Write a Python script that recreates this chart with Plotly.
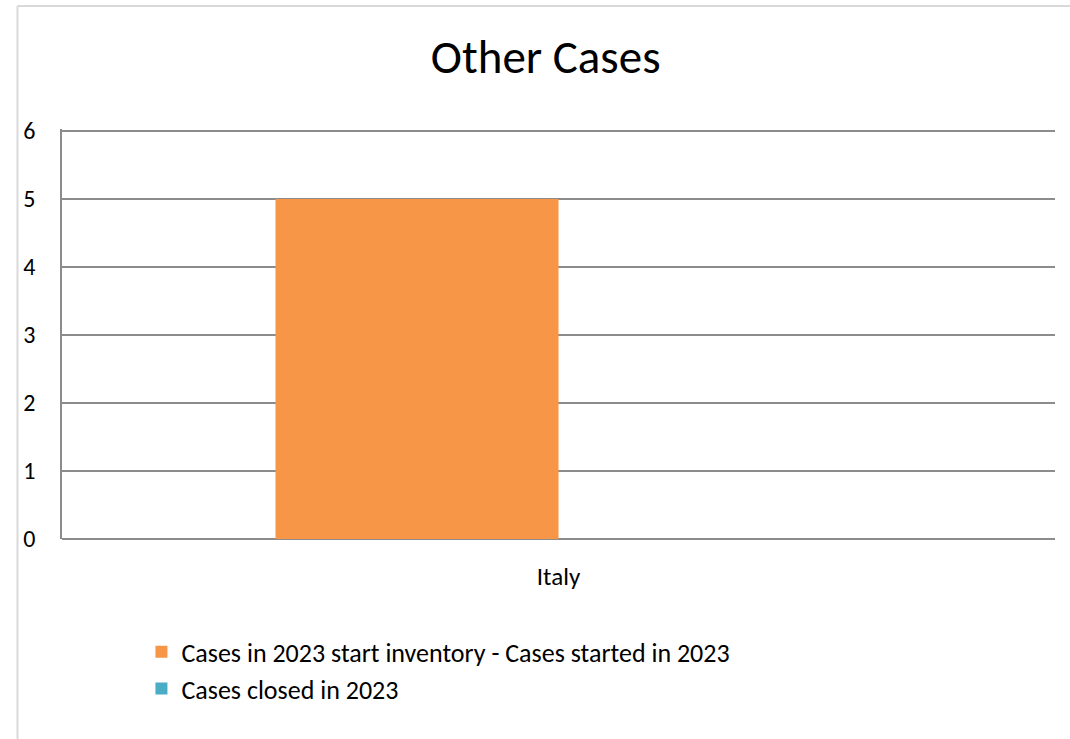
import plotly.graph_objects as go

categories = ["Italy"]
series_names = [
    "Cases in 2023 start inventory - Cases started in 2023",
    "Cases closed in 2023",
]
series_values = [
    [5],
    [0],
]
series_colors = ["#F79646", "#4BACC6"]
y_ticks = [0, 1, 2, 3, 4, 5, 6]

FONT = "Carlito, Lato, 'Open Sans', sans-serif"

fig = go.Figure()
for name, vals, color in zip(series_names, series_values, series_colors):
    fig.add_trace(go.Bar(
        name=name,
        x=categories,
        y=vals,
        marker=dict(color=color, line_width=0),
    ))

# light frame of the chart area (left and top edges)
frame = dict(type="line", xref="paper", yref="paper", line=dict(color="#D9D9D9", width=2), layer="below")
fig.add_shape(x0=-0.0448, x1=-0.0448, y0=1.3, y1=-0.5, **frame)
fig.add_shape(x0=-0.0448, x1=1.02, y0=1.3, y1=1.3, **frame)

fig.update_layout(
    title=dict(text="Other Cases", x=0.51, xanchor="center", y=0.923, yanchor="middle",
               font=dict(size=47, color="#000000", family=FONT)),
    barmode="group",
    bargap=0.43,
    bargroupgap=0,
    paper_bgcolor="white",
    plot_bgcolor="white",
    font=dict(family=FONT, color="#000000"),
    width=1070,
    height=739,
    margin=dict(l=62, r=15, t=129, b=200),
    xaxis=dict(
        showline=False,
        showgrid=False,
        tickfont=dict(size=25),
        ticks="",
        ticklabelstandoff=20,
    ),
    yaxis=dict(
        range=[0, 6.03],
        tickvals=y_ticks,
        showgrid=True,
        gridcolor="#8C8C8C",
        gridwidth=1.5,
        showline=True,
        linecolor="#8C8C8C",
        linewidth=1.5,
        zeroline=True,
        zerolinecolor="#8C8C8C",
        zerolinewidth=1.5,
        tickfont=dict(size=24),
        ticklabelstandoff=20,
    ),
    legend=dict(
        orientation="v",
        x=0.080,
        xanchor="left",
        y=-0.218,
        yanchor="top",
        font=dict(size=26),
        itemwidth=30,
        tracegroupgap=4,
    ),
    showlegend=True,
)

fig.write_html("out.html", config={"displayModeBar": False},
               post_script="document.body.style.margin='0';")
